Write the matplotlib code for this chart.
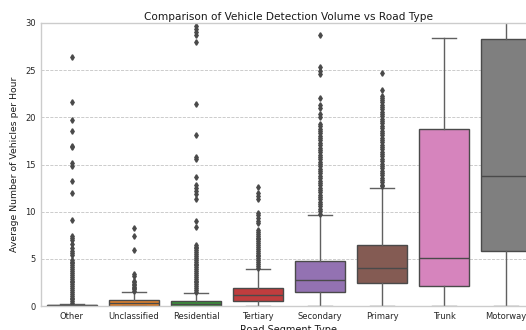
import matplotlib
matplotlib.use("Agg")
import matplotlib.pyplot as plt

# categories and box statistics
road_types = ["Other", "Unclassified", "Residential", "Tertiary",
              "Secondary", "Primary", "Trunk", "Motorway"]
whisker_low = [0.0, 0.0, 0.0, 0.0, 0.0, 0.0, 0.0, 0.0]
q1 = [0.02, 0.05, 0.03, 0.56, 1.52, 2.40, 2.12, 5.86]
median = [0.06, 0.28, 0.25, 1.17, 2.75, 4.00, 5.05, 13.78]
q3 = [0.12, 0.60, 0.56, 1.87, 4.80, 6.47, 18.73, 28.27]
whisker_high = [0.25, 1.52, 1.35, 3.90, 9.65, 12.55, 28.40, 40.0]

# outliers (dense streaks listed point by point)
other_fliers = [26.4, 21.6, 19.75, 18.55, 16.95, 16.85, 15.2, 14.8, 13.25, 12.0,
                9.1, 7.45, 7.2, 7.0, 6.55, 6.2, 5.85, 5.6, 5.4, 4.9, 4.7, 4.55,
                4.3, 4.1, 3.9, 3.7, 3.5, 3.3, 3.1, 2.9, 2.7, 2.5, 2.3, 2.1, 1.9,
                1.7, 1.5, 1.3, 1.1, 0.9, 0.7, 0.5, 0.35]
unclassified_fliers = [8.3, 7.4, 5.9, 3.35, 3.2, 2.65, 2.5, 2.35, 2.2, 2.05,
                       1.9, 1.75, 1.6]
residential_fliers = [29.7, 29.4, 29.0, 28.7, 28.0, 21.4, 18.1, 15.8, 15.6, 13.7,
                      12.8, 12.5, 12.2, 11.9, 11.3, 9.0, 8.4, 6.5, 6.3, 6.1, 5.9,
                      5.7, 5.5, 5.3, 5.1, 4.9, 4.7, 4.5, 4.3, 4.1, 3.9, 3.7, 3.5,
                      3.3, 3.1, 2.9, 2.7, 2.5, 2.3, 2.1, 1.9, 1.7, 1.5]
tertiary_fliers = [12.6, 12.0, 11.7, 11.35, 9.9, 9.6, 9.3, 9.0, 8.8, 8.05, 7.85,
                   7.65, 7.45, 7.25, 7.05, 6.85, 6.65, 6.45, 6.25, 6.05, 5.85,
                   5.65, 5.45, 5.25, 5.05, 4.85, 4.65, 4.45, 4.25, 4.05]
secondary_fliers = [28.7, 25.3, 24.9, 24.6, 22.1, 21.3, 21.0, 20.4, 20.0, 19.3,
                    19.05, 18.8, 18.55, 18.3, 18.05, 17.8, 17.55, 17.3, 17.05,
                    16.8, 16.55, 16.3, 16.05, 15.8, 15.55, 15.3, 15.05, 14.8,
                    14.55, 14.3, 14.05, 13.8, 13.55, 13.3, 13.05, 12.8, 12.55,
                    12.3, 12.05, 11.8, 11.55, 11.3, 11.05, 10.8, 10.55, 10.3,
                    10.05, 9.8]
primary_fliers = [24.65, 22.9, 22.3, 22.1, 21.85, 21.6, 21.35, 21.1, 20.85, 20.6,
                  20.35, 20.1, 19.85, 19.6, 19.35, 19.1, 18.85, 18.6, 18.35,
                  18.1, 17.85, 17.6, 17.35, 17.1, 16.85, 16.6, 16.35, 16.1,
                  15.85, 15.6, 15.35, 15.1, 14.85, 14.6, 14.35, 14.1, 13.85,
                  13.6, 13.35, 13.1, 12.85, 12.7]
trunk_fliers = []
motorway_fliers = []
fliers = [other_fliers, unclassified_fliers, residential_fliers, tertiary_fliers,
          secondary_fliers, primary_fliers, trunk_fliers, motorway_fliers]

colors = ["#3274a1", "#e1812c", "#3a923a", "#c03d3e",
          "#9372b2", "#845b53", "#d684bd", "#7f7f7f"]

stats = []
for i, name in enumerate(road_types):
    stats.append({"label": name, "whislo": whisker_low[i], "q1": q1[i],
                  "med": median[i], "q3": q3[i], "whishi": whisker_high[i],
                  "fliers": fliers[i]})

fig = plt.figure(figsize=(5.26, 3.30), dpi=100)
ax = fig.add_axes([41 / 526, 24 / 330, 496 / 526, 283 / 330])

edge = "#4a4a4a"
line = "#606060"
bp = ax.bxp(stats, positions=range(len(road_types)), widths=0.8,
            capwidths=0.4, patch_artist=True,
            boxprops=dict(edgecolor=edge, linewidth=1.0),
            medianprops=dict(color=edge, linewidth=1.0),
            whiskerprops=dict(color=line, linewidth=1.0),
            capprops=dict(color=line, linewidth=1.0),
            flierprops=dict(marker="d", markersize=2.8, markerfacecolor=edge,
                            markeredgecolor=edge, linestyle="none"))
for patch, c in zip(bp["boxes"], colors):
    patch.set_facecolor(c)

ax.set_xlim(-0.5, 7.5)
ax.set_ylim(0, 30)
ax.set_yticks([0, 5, 10, 15, 20, 25, 30])
ax.set_axisbelow(True)
ax.grid(axis="y", linestyle="--", color="#c4c4c4", linewidth=0.6)

for s in ax.spines.values():
    s.set_color("#cccccc")
    s.set_linewidth(1.0)

ax.tick_params(length=0, labelsize=6, labelcolor="#262626", pad=4)
ax.set_title("Comparison of Vehicle Detection Volume vs Road Type",
             fontsize=7.6, color="#1a1a1a", pad=2.5)
ax.set_xlabel("Road Segment Type", fontsize=7.0, color="#1a1a1a", labelpad=3)
ax.set_ylabel("Average Number of Vehicles per Hour", fontsize=6.7,
              color="#1a1a1a", labelpad=4)

fig.savefig("out.png", dpi=100)
